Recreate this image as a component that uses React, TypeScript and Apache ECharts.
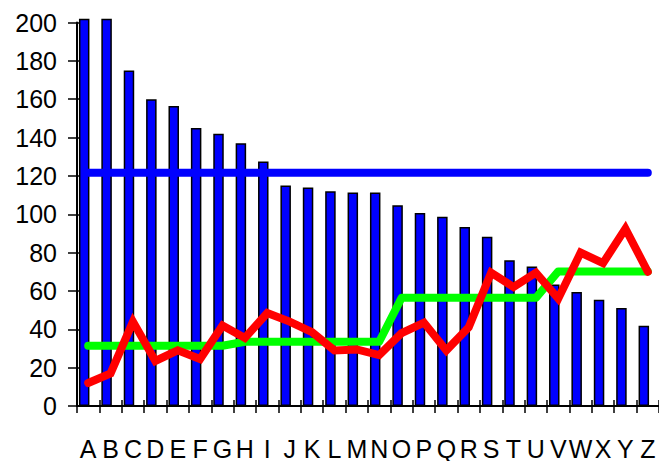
import React, { useEffect, useRef } from 'react';
import * as echarts from 'echarts';

const categories = ['A', 'B', 'C', 'D', 'E', 'F', 'G', 'H', 'I', 'J', 'K', 'L', 'M', 'N', 'O', 'P', 'Q', 'R', 'S', 'T', 'U', 'V', 'W', 'X', 'Y', 'Z'];

const barValues = [202, 202, 175, 160, 156.5, 145, 142, 137, 127.5, 115, 114, 112, 111.3, 111.3, 104.7, 100.7, 98.7, 93.3, 88.3, 76, 72.8, 63.3, 59.4, 55.4, 51.1, 41.8];

const blueLineValues = [121.6, 121.6, 121.6, 121.6, 121.6, 121.6, 121.6, 121.6, 121.6, 121.6, 121.6, 121.6, 121.6, 121.6, 121.6, 121.6, 121.6, 121.6, 121.6, 121.6, 121.6, 121.6, 121.6, 121.6, 121.6, 121.6];

const greenValues = [31.4, 31.4, 31.4, 31.4, 31.4, 31.4, 31.4, 33.5, 33.5, 33.5, 33.5, 33.5, 33.5, 33.5, 56.4, 56.4, 56.4, 56.4, 56.4, 56.4, 56.4, 70.2, 70.2, 70.2, 70.2, 70.2];

const redValues = [12, 17, 44, 23.5, 29, 24.5, 42, 35.5, 48.5, 44, 38.5, 29, 29.5, 26.5, 38, 43.5, 29, 41, 69.5, 62, 69.5, 56, 80, 74.5, 92.5, 70];

const yMin = 0;
const yMax = 200;
const yInterval = 20;

export default function App() {
  const ref = useRef<HTMLDivElement>(null);

  useEffect(() => {
    if (!ref.current) return;
    const chart = echarts.init(ref.current, null, { renderer: 'svg' });
    const font = '"Liberation Sans", Arial, Helvetica, sans-serif';
    const axisColor = '#000000';
    const spacer = categories.map(() => '-');

    chart.setOption({
      animation: false,
      backgroundColor: '#ffffff',
      grid: { left: 77, right: -3, top: 22.5, bottom: 52, containLabel: false },
      xAxis: [
        {
          type: 'category',
          data: categories,
          boundaryGap: true,
          axisLine: { show: true, lineStyle: { color: axisColor, width: 2 } },
          axisTick: { show: true, length: 7, lineStyle: { color: axisColor, width: 1.5 } },
          axisLabel: { show: true, color: '#000', fontSize: 25, fontFamily: font, margin: 30, interval: 0 },
          splitLine: { show: false },
        },
        {
          type: 'category',
          data: categories,
          position: 'bottom',
          boundaryGap: true,
          axisLine: { show: false },
          axisTick: { show: true, inside: true, length: 6, lineStyle: { color: axisColor, width: 1.5 } },
          axisLabel: { show: false },
          splitLine: { show: false },
        },
      ],
      yAxis: [
        {
          type: 'value',
          min: yMin,
          max: yMax,
          interval: yInterval,
          axisLine: { show: true, lineStyle: { color: axisColor, width: 2 } },
          axisTick: { show: true, length: 9, lineStyle: { color: axisColor, width: 1.5 } },
          axisLabel: { show: true, color: '#000', fontSize: 25, fontFamily: font, margin: 20, padding: [4, 0, 0, 0] },
          splitLine: { show: false },
        },
        {
          type: 'value',
          min: yMin,
          max: yMax,
          interval: yInterval,
          position: 'left',
          axisLine: { show: false },
          axisTick: { show: true, inside: true, length: 5, lineStyle: { color: axisColor, width: 1.5 } },
          axisLabel: { show: false },
          splitLine: { show: false },
        },
      ],
      series: [
        {
          type: 'bar',
          data: barValues,
          barWidth: 10.5,
          barGap: '-24%',
          clip: false,
          itemStyle: { color: '#0000ff', borderColor: '#000000', borderWidth: 1.5 },
          emphasis: { disabled: true },
        },
        {
          type: 'bar',
          data: spacer,
          barWidth: 10.5,
          itemStyle: { color: 'transparent' },
        },
        {
          type: 'line',
          data: blueLineValues,
          symbol: 'none',
          itemStyle: { color: '#0000ff' },
          lineStyle: { color: '#0000ff', width: 8, cap: 'round', join: 'round' },
        },
        {
          type: 'line',
          data: greenValues,
          symbol: 'none',
          itemStyle: { color: '#00ff00' },
          lineStyle: { color: '#00ff00', width: 8, cap: 'round', join: 'round' },
        },
        {
          type: 'line',
          data: redValues,
          symbol: 'none',
          itemStyle: { color: '#ff0000' },
          lineStyle: { color: '#ff0000', width: 8, cap: 'round', join: 'miter' },
        },
      ],
    });

    return () => chart.dispose();
  }, []);

  return (
    <div
      ref={ref}
      style={{ position: 'fixed', left: 0, top: 0, width: 659, height: 461, background: '#fff' }}
    />
  );
}
